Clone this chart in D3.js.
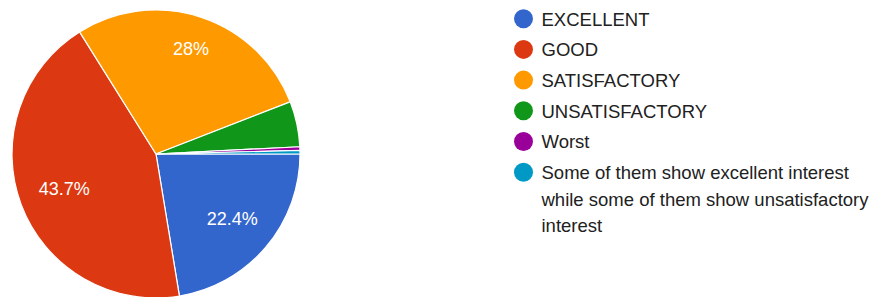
<!DOCTYPE html>
<html>
<head>
<meta charset="utf-8">
<script src="https://cdn.jsdelivr.net/npm/d3@7"></script>
<style>
  html, body { margin: 0; padding: 0; background: #fff; }
  svg { display: block; }
</style>
</head>
<body>
<svg id="chart" width="889" height="297"></svg>
<script>
const categories = ["EXCELLENT", "GOOD", "SATISFACTORY", "UNSATISFACTORY", "Worst",
  "Some of them show excellent interest while some of them show unsatisfactory interest"];
const values = [22.4, 43.7, 28.0, 5.1, 0.4, 0.4];
const sliceLabels = ["22.4%", "43.7%", "28%", "", "", ""];
const legendLines = [["EXCELLENT"], ["GOOD"], ["SATISFACTORY"], ["UNSATISFACTORY"], ["Worst"],
  ["Some of them show excellent interest", "while some of them show unsatisfactory", "interest"]];
const colors = ["#3366cc", "#dc3912", "#ff9900", "#109618", "#990099", "#0099c6"];

const svg = d3.select("#chart");
const cx = 156, cy = 154, r = 144;
const font = "'Liberation Sans', Arial, sans-serif";

const color = d3.scaleOrdinal().domain(categories).range(colors);
const pie = d3.pie().sort(null).value(d => d.v)
  .startAngle(Math.PI / 2).endAngle(Math.PI / 2 + 2 * Math.PI);
const data = categories.map((c, i) => ({ c, v: values[i], label: sliceLabels[i] }));
const arcs = pie(data);
const arc = d3.arc().innerRadius(0).outerRadius(r);

const g = svg.append("g").attr("transform", `translate(${cx},${cy})`);
g.selectAll("path.slice").data(arcs).join("path")
  .attr("class", "slice")
  .attr("d", arc)
  .attr("fill", d => color(d.data.c))
  .attr("stroke", "#fff")
  .attr("stroke-width", 1.2);

// Labels placed along the mid-angle so that the label box's outer corner sits at a fixed radius
const cornerR = r * 0.865;
g.selectAll("text.pct").data(arcs.filter(d => d.data.label)).join("text")
  .attr("class", "pct")
  .attr("text-anchor", "middle")
  .attr("dy", "0.36em")
  .attr("fill", "#fff")
  .attr("font-family", font)
  .attr("font-size", 18)
  .text(d => d.data.label)
  .each(function (d) {
    const bb = this.getBBox();
    const hw = bb.width / 2, hh = 7;
    const a = (d.startAngle + d.endAngle) / 2;
    const ux = Math.sin(a), uy = -Math.cos(a);
    const ox = Math.sign(ux) * hw, oy = Math.sign(uy) * hh;
    // |t*u + o| = cornerR  ->  t^2 + 2t(u.o) + |o|^2 - R^2 = 0
    const b = ux * ox + uy * oy;
    const c = ox * ox + oy * oy - cornerR * cornerR;
    const t = -b + Math.sqrt(b * b - c);
    d3.select(this).attr("transform", `translate(${t * ux},${t * uy})`);
  });

// Legend
const legX = 523.5, legY0 = 18.7, rowH = 30.7, lineH = 26.5;
const leg = svg.append("g");
let y = legY0;
categories.forEach((c, i) => {
  leg.append("circle").attr("cx", legX).attr("cy", y).attr("r", 9.5).attr("fill", color(c));
  const t = leg.append("text")
    .attr("x", legX + 18)
    .attr("y", y + 6.8)
    .attr("fill", "#212121")
    .attr("font-family", font)
    .attr("font-size", 18.5);
  legendLines[i].forEach((ln, j) => {
    t.append("tspan").attr("x", legX + 18).attr("y", y + 6.8 + j * lineH).text(ln);
  });
  y += rowH;
});
</script>
</body>
</html>
